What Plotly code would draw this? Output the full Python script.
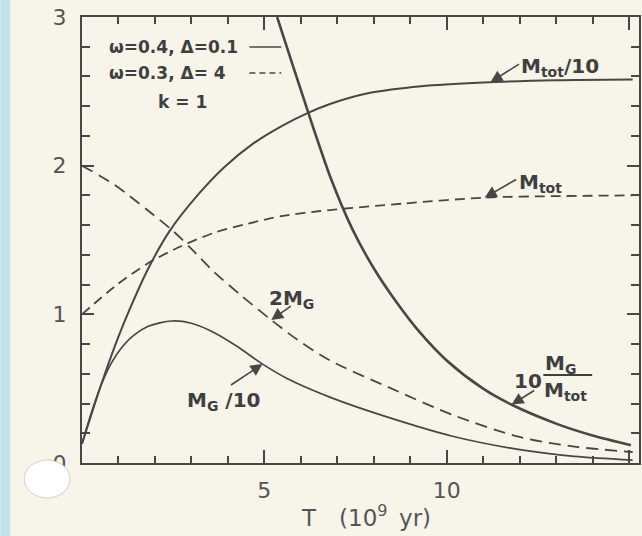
import numpy as np
import plotly.graph_objects as go

# Time axis: T in units of 10^9 yr
# Solid curves (omega=0.4, Delta=0.1)
t_mtot10 = [0, 0.3, 0.6, 1.0, 1.3, 1.8, 2.4, 3.2, 3.9, 4.7, 5.5, 6.2, 6.8, 7.9, 9.3, 11.0, 13.0, 15.1]
mtot10 = [0.13, 0.36, 0.58, 0.85, 1.03, 1.30, 1.56, 1.81, 1.99, 2.15, 2.27, 2.355, 2.415, 2.49, 2.535, 2.56, 2.575, 2.58]

t_mg10 = [0, 0.3, 0.55, 0.8, 1.1, 1.4, 1.82, 2.46, 3.0, 3.64, 4.28, 4.92, 5.65, 6.83, 8.36, 10.16, 12.0, 13.5, 15.1]
mg10 = [0.13, 0.37, 0.54, 0.67, 0.78, 0.855, 0.92, 0.955, 0.94, 0.875, 0.78, 0.67, 0.565, 0.44, 0.31, 0.18, 0.09, 0.045, 0.02]

t_ratio = [5.35, 5.8, 6.2, 6.5, 6.83, 7.4, 8.0, 8.6, 9.26, 10.0, 11.0, 11.8, 13.0, 14.0, 15.05]
ratio10 = [3.0, 2.66, 2.36, 2.14, 1.91, 1.58, 1.31, 1.09, 0.88, 0.69, 0.50, 0.39, 0.265, 0.185, 0.12]

# Dashed curves (omega=0.3, Delta=4)
t_mtot = [0, 0.91, 1.82, 2.73, 3.64, 4.55, 5.46, 6.53, 8.8, 11.1, 13.0, 15.1]
mtot = [1.0, 1.19, 1.345, 1.46, 1.55, 1.61, 1.66, 1.695, 1.745, 1.786, 1.795, 1.80]

t_2mg = [0, 0.9, 1.8, 2.5, 3.0, 3.6, 4.3, 5.2, 5.9, 6.8, 8.4, 10.2, 12.0, 13.5, 15.1]
mg2 = [2.0, 1.87, 1.70, 1.56, 1.44, 1.29, 1.14, 0.96, 0.83, 0.69, 0.51, 0.32, 0.175, 0.11, 0.074]

x_ticks = [5, 10, 15]
y_ticks = [0, 1, 2, 3]

INK = "#474747"
TEXT = "#3f3f3f"
LABEL = "#555555"
PAPER = "#f7f4ea"
FONT = "DejaVu Sans"

W, H = 642, 536
L, R, T, B = 82, 1, 17, 73
PW, PH = W - L - R, H - T - B


def px(x):
    return (x - L) / PW


def py(y):
    return (H - B - y) / PH


fig = go.Figure()


def add_curve(t, v, dash, width):
    fig.add_trace(go.Scatter(
        x=t, y=v, mode="lines",
        line=dict(color=INK, width=width, dash=dash, shape="spline", smoothing=0.8),
        hoverinfo="skip", showlegend=False, cliponaxis=True,
    ))


add_curve(t_mtot10, mtot10, "solid", 2.0)
add_curve(t_mg10, mg10, "solid", 1.7)
add_curve(t_ratio, ratio10, "solid", 2.6)
add_curve(t_mtot, mtot, "10px,6px", 1.8)
add_curve(t_2mg, mg2, "12px,7px", 1.8)

# Curve labels with arrows pointing at the curves
arrows = [
    (t_mtot10, mtot10, 11.2, 30, -19),
    (t_mtot, mtot, 11.04, 33, -19),
    (t_2mg, mg2, 5.19, 21, -15),
    (t_mg10, mg10, 4.95, -33, 22),
    (t_ratio, ratio10, 11.78, 24, -15),
]
for t, v, tx, ax, ay in arrows:
    fig.add_annotation(
        x=tx, y=float(np.interp(tx, t, v)), xref="x", yref="y",
        text="", showarrow=True, ax=ax, ay=ay,
        arrowhead=2, arrowsize=1.5, arrowwidth=1.6, arrowcolor=INK,
    )

lab_font = dict(family=FONT, size=20, color=TEXT, weight="bold")
labels = [
    ("M<sub>tot</sub>/10", 521, 67, "left"),
    ("M<sub>tot</sub>", 519, 183, "left"),
    ("2M<sub>G</sub>", 268, 299, "left"),
    ("M<sub>G</sub> /10", 185, 401, "left"),
    ("10", 514, 381, "left"),
    ("M<sub>G</sub>", 545, 364, "left"),
    ("M<sub>tot</sub>", 544, 391, "left"),
]
for txt, x, y, anc in labels:
    fig.add_annotation(
        x=px(x), y=py(y), xref="paper", yref="paper", text=txt,
        showarrow=False, xanchor=anc, yanchor="middle", font=lab_font,
    )
# fraction bar
fig.add_shape(type="line", xref="paper", yref="paper",
              x0=px(545), x1=px(594), y0=py(375), y1=py(375),
              line=dict(color=TEXT, width=2))

# Key in the upper left
key_font = dict(family=FONT, size=17, color=TEXT, weight="bold")
fig.add_annotation(x=px(107), y=py(47), xref="paper", yref="paper",
                   text="ω=0.4, Δ=0.1", showarrow=False, xanchor="left",
                   yanchor="middle", font=key_font)
fig.add_annotation(x=px(107), y=py(73), xref="paper", yref="paper",
                   text="ω=0.3, Δ= 4", showarrow=False, xanchor="left",
                   yanchor="middle", font=key_font)
fig.add_annotation(x=px(183), y=py(102), xref="paper", yref="paper",
                   text="k = 1", showarrow=False, xanchor="center",
                   yanchor="middle", font=key_font)
fig.add_shape(type="line", xref="paper", yref="paper",
              x0=px(250), x1=px(282), y0=py(47), y1=py(47),
              line=dict(color=INK, width=1.6))
fig.add_shape(type="line", xref="paper", yref="paper",
              x0=px(250), x1=px(282), y0=py(73), y1=py(73),
              line=dict(color=INK, width=1.6, dash="6px,4px"))

# Axis title
fig.add_annotation(x=px(367), y=py(516), xref="paper", yref="paper",
                   text="T\u2002\u2002(10<sup>9</sup>\u2002yr)", showarrow=False,
                   xanchor="center", yanchor="middle",
                   font=dict(family=FONT, size=23, color=LABEL))

# Page edge strip and the punched hole near the origin
fig.add_shape(type="rect", xref="paper", yref="paper",
              x0=px(0), x1=px(10), y0=py(H), y1=py(0),
              fillcolor="#c3e3ea", line=dict(width=0), layer="above")
fig.add_shape(type="circle", xref="paper", yref="paper",
              x0=px(24), x1=px(70), y0=py(498), y1=py(460),
              fillcolor="#ffffff", line=dict(color="#c4c4c4", width=0.8),
              layer="above")

axis_common = dict(
    showline=True, linecolor=INK, linewidth=2, mirror="allticks",
    ticks="inside", tickcolor=INK, tickwidth=2,
    showgrid=False, zeroline=False,
)
fig.update_xaxes(
    range=[0, PW / 36.6], tickmode="array", tickvals=x_ticks,
    ticktext=[str(v) for v in x_ticks], ticklen=13,
    minor=dict(dtick=1, tick0=0, ticks="inside", ticklen=7, tickwidth=2,
               tickcolor=INK, showgrid=False),
    tickfont=dict(family=FONT, size=22, color=LABEL),
    ticklabelstandoff=7,
    **axis_common,
)
fig.update_yaxes(
    range=[0, 3], tickmode="array", tickvals=y_ticks,
    ticktext=[str(v) for v in y_ticks], ticklen=12,
    minor=dict(dtick=0.2, tick0=0, ticks="inside", ticklen=8, tickwidth=2,
               tickcolor=INK, showgrid=False),
    tickfont=dict(family=FONT, size=22, color=LABEL),
    ticklabelstandoff=9,
    **axis_common,
)

fig.update_layout(
    width=W, height=H,
    margin=dict(l=L, r=R, t=T, b=B, pad=0),
    paper_bgcolor=PAPER, plot_bgcolor=PAPER,
    showlegend=False,
)

fig.write_html("out.html")
